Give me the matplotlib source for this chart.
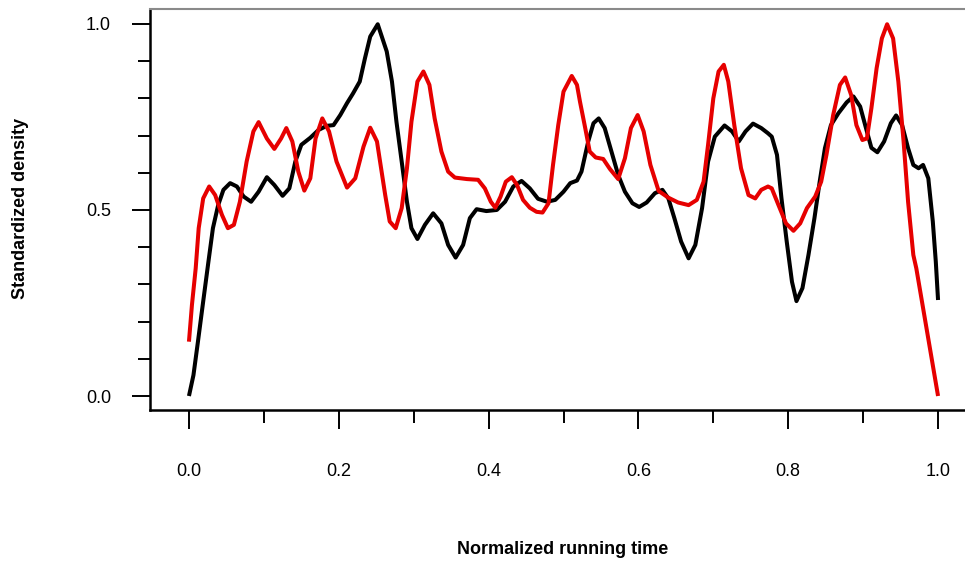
import numpy as np
import matplotlib
matplotlib.use('Agg')
import matplotlib.pyplot as plt
from matplotlib.ticker import MultipleLocator, FixedLocator

# ── DATA ──────────────────────────────────────────────────────
black_x = [0.000, 0.006, 0.012, 0.019, 0.026, 0.032, 0.039, 0.046, 0.055, 0.064,
           0.073, 0.083, 0.093, 0.104, 0.114, 0.125, 0.134, 0.142, 0.150, 0.162,
           0.173, 0.184, 0.193, 0.202, 0.211, 0.219, 0.228, 0.235, 0.242, 0.252,
           0.264, 0.271, 0.277, 0.284, 0.291, 0.297, 0.305, 0.315, 0.326, 0.337,
           0.346, 0.356, 0.366, 0.375, 0.384, 0.397, 0.411, 0.422, 0.433, 0.444,
           0.455, 0.466, 0.478, 0.489, 0.500, 0.509, 0.518, 0.524, 0.533, 0.540,
           0.547, 0.555, 0.564, 0.573, 0.582, 0.592, 0.601, 0.611, 0.622, 0.632,
           0.640, 0.648, 0.657, 0.667, 0.676, 0.685, 0.693, 0.702, 0.715, 0.725,
           0.734, 0.743, 0.753, 0.764, 0.773, 0.778, 0.785, 0.791, 0.798, 0.805,
           0.811, 0.819, 0.827, 0.835, 0.842, 0.849, 0.857, 0.867, 0.878, 0.887,
           0.896, 0.905, 0.911, 0.919, 0.928, 0.937, 0.944, 0.952, 0.960, 0.967,
           0.974, 0.980, 0.987, 0.993, 0.997, 1.000]
black_y = [0.000, 0.056, 0.146, 0.254, 0.361, 0.451, 0.513, 0.554, 0.572, 0.563,
           0.536, 0.522, 0.549, 0.588, 0.567, 0.538, 0.558, 0.630, 0.675, 0.694,
           0.715, 0.726, 0.728, 0.755, 0.787, 0.813, 0.845, 0.908, 0.966, 0.999,
           0.926, 0.845, 0.737, 0.630, 0.522, 0.451, 0.422, 0.460, 0.491, 0.464,
           0.406, 0.372, 0.406, 0.478, 0.502, 0.497, 0.500, 0.522, 0.563, 0.578,
           0.558, 0.530, 0.522, 0.527, 0.549, 0.572, 0.579, 0.603, 0.684, 0.733,
           0.746, 0.720, 0.657, 0.594, 0.549, 0.518, 0.508, 0.520, 0.545, 0.554,
           0.531, 0.478, 0.415, 0.370, 0.406, 0.505, 0.630, 0.697, 0.727, 0.711,
           0.684, 0.711, 0.732, 0.720, 0.706, 0.697, 0.648, 0.531, 0.415, 0.307,
           0.255, 0.290, 0.379, 0.478, 0.576, 0.666, 0.728, 0.760, 0.789, 0.805,
           0.778, 0.711, 0.667, 0.655, 0.684, 0.733, 0.754, 0.728, 0.666, 0.621,
           0.612, 0.621, 0.585, 0.469, 0.361, 0.258]

red_x = [0.000, 0.004, 0.009, 0.013, 0.019, 0.027, 0.035, 0.044, 0.052, 0.060,
         0.068, 0.077, 0.086, 0.093, 0.104, 0.114, 0.123, 0.130, 0.138, 0.146,
         0.154, 0.162, 0.169, 0.178, 0.187, 0.197, 0.211, 0.222, 0.233, 0.242,
         0.251, 0.262, 0.268, 0.276, 0.284, 0.291, 0.297, 0.305, 0.313, 0.321,
         0.328, 0.337, 0.346, 0.355, 0.371, 0.386, 0.395, 0.403, 0.409, 0.416,
         0.423, 0.431, 0.438, 0.446, 0.455, 0.464, 0.472, 0.480, 0.486, 0.493,
         0.500, 0.511, 0.518, 0.522, 0.529, 0.535, 0.543, 0.553, 0.562, 0.573,
         0.582, 0.590, 0.599, 0.607, 0.616, 0.627, 0.640, 0.653, 0.667, 0.678,
         0.687, 0.693, 0.700, 0.707, 0.714, 0.720, 0.728, 0.737, 0.747, 0.756,
         0.764, 0.773, 0.778, 0.787, 0.797, 0.807, 0.816, 0.825, 0.836, 0.844,
         0.851, 0.860, 0.869, 0.876, 0.884, 0.891, 0.899, 0.905, 0.911, 0.918,
         0.925, 0.932, 0.940, 0.947, 0.954, 0.960, 0.967, 0.971, 1.000]
red_y = [0.146, 0.245, 0.343, 0.451, 0.531, 0.563, 0.540, 0.487, 0.451, 0.460,
         0.522, 0.630, 0.711, 0.736, 0.692, 0.664, 0.692, 0.720, 0.684, 0.603,
         0.552, 0.585, 0.692, 0.746, 0.711, 0.630, 0.560, 0.585, 0.670, 0.721,
         0.684, 0.540, 0.469, 0.451, 0.505, 0.612, 0.737, 0.845, 0.872, 0.836,
         0.746, 0.657, 0.603, 0.587, 0.583, 0.581, 0.558, 0.522, 0.506, 0.536,
         0.576, 0.588, 0.567, 0.527, 0.506, 0.495, 0.493, 0.518, 0.621, 0.728,
         0.818, 0.860, 0.836, 0.791, 0.720, 0.657, 0.641, 0.637, 0.610, 0.583,
         0.639, 0.720, 0.755, 0.711, 0.621, 0.551, 0.533, 0.520, 0.513, 0.527,
         0.576, 0.675, 0.800, 0.872, 0.890, 0.845, 0.728, 0.612, 0.540, 0.531,
         0.554, 0.563, 0.558, 0.513, 0.464, 0.444, 0.464, 0.505, 0.536, 0.576,
         0.648, 0.755, 0.836, 0.856, 0.809, 0.728, 0.688, 0.692, 0.773, 0.881,
         0.961, 0.999, 0.961, 0.845, 0.684, 0.522, 0.379, 0.343, 0.000]

x_major = [0.0, 0.2, 0.4, 0.6, 0.8, 1.0]
y_major = [0.0, 0.5, 1.0]

plt.rcParams['font.family'] = ['Liberation Sans', 'DejaVu Sans']

fig = plt.figure(figsize=(9.65, 5.63), dpi=100)
ax = fig.add_axes([150 / 965, 153 / 563, (977 - 150) / 965, 401 / 563])

ax.plot(black_x, black_y, color='black', lw=2.9, solid_joinstyle='round',
        solid_capstyle='butt')
ax.plot(red_x, red_y, color='#e60000', lw=2.9, solid_joinstyle='round',
        solid_capstyle='butt')

ax.set_xlim(-0.052, 1.052)
ax.set_ylim(-0.0376, 1.040)

# R-style axes
ax.spines['right'].set_visible(False)
ax.spines['top'].set_color('#8a8a8a')
ax.spines['top'].set_linewidth(1.5)
for s in ['left', 'bottom']:
    ax.spines[s].set_linewidth(1.8)

ax.xaxis.set_major_locator(FixedLocator(x_major))
ax.xaxis.set_minor_locator(MultipleLocator(0.1))
ax.yaxis.set_major_locator(FixedLocator(y_major))
ax.yaxis.set_minor_locator(MultipleLocator(0.1))
ax.set_xticklabels([f'{v:.1f}' for v in x_major])
ax.set_yticklabels([f'{v:.1f}' for v in y_major])

ax.tick_params(axis='x', which='major', direction='out', length=14, width=1.4,
               pad=24, labelsize=13)
ax.tick_params(axis='x', which='minor', direction='out', length=9.5, width=1.4)
ax.tick_params(axis='y', which='major', direction='out', length=13, width=1.4,
               pad=15, labelsize=13)
ax.tick_params(axis='y', which='minor', direction='out', length=9, width=1.4)

fig.text(563 / 965, 1 - 549 / 563, 'Normalized running time', ha='center',
         va='center', fontsize=13, fontweight='bold')
fig.text(21 / 965, 1 - 208 / 563, 'Standardized density', ha='center',
         va='center', rotation=90, fontsize=13, fontweight='bold')

fig.savefig('out.png', dpi=100)
